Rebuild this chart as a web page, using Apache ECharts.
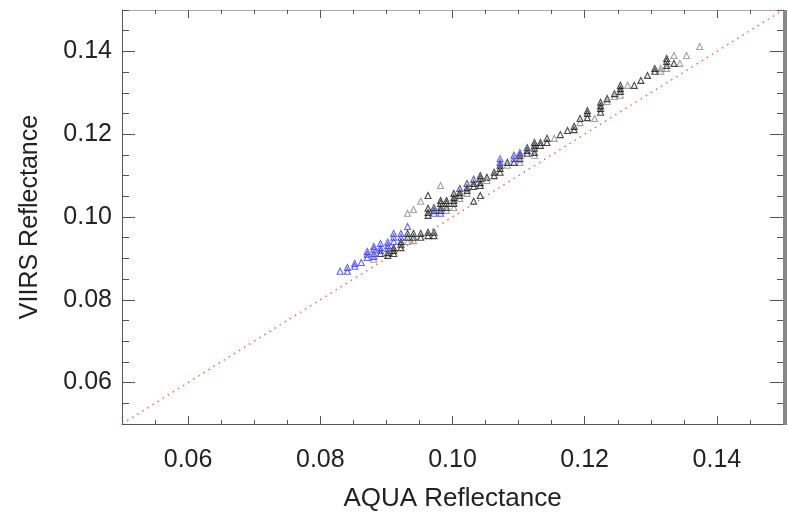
<!DOCTYPE html>
<html><head><meta charset="utf-8">
<script src="https://cdn.jsdelivr.net/npm/echarts@6/dist/echarts.min.js"></script>
<style>html,body{margin:0;padding:0;background:#fff}#c{width:788px;height:512px}</style>
</head><body><div id="c"></div>
<script>
const xTicks = [0.06, 0.08, 0.10, 0.12, 0.14];
const yTicks = [0.06, 0.08, 0.10, 0.12, 0.14];
const oneToOne = [[0.05,0.05],[0.15,0.15]];
const bluePts = [[0.0830,0.0869],[0.0841,0.0878],[0.0841,0.0869],[0.0852,0.0888],[0.0852,0.0881],[0.0862,0.0890],[0.0871,0.0917],[0.0871,0.0910],[0.0871,0.0902],[0.0881,0.0929],[0.0881,0.0922],[0.0881,0.0912],[0.0881,0.0905],[0.0891,0.0936],[0.0891,0.0926],[0.0891,0.0919],[0.0902,0.0939],[0.0902,0.0931],[0.0902,0.0924],[0.0911,0.0960],[0.0911,0.0951],[0.0911,0.0941],[0.0922,0.0960],[0.0922,0.0951],[0.0932,0.0977],[0.0972,0.1009],[0.0982,0.1009],[0.1072,0.1141],[0.1072,0.1132],[0.1093,0.1149],[0.1093,0.1141],[0.1102,0.1156]];
const navyPts = [[0.0972,0.1023],[0.1011,0.1069],[0.1022,0.1081],[0.1032,0.1091],[0.1113,0.1168]];
const grayPts = [[0.0881,0.0898],[0.0932,0.1009],[0.0941,0.1018],[0.0952,0.1038],[0.0982,0.1076],[0.0932,0.0941],[0.0941,0.0943],[0.0991,0.1016],[0.1002,0.1023],[0.1011,0.1045],[0.1022,0.1057],[0.1052,0.1088],[0.1083,0.1125],[0.1102,0.1132],[0.1124,0.1149],[0.1154,0.1190],[0.1193,0.1228],[0.1215,0.1238],[0.1234,0.1279],[0.1245,0.1291],[0.1254,0.1294],[0.1315,0.1352],[0.1315,0.1359],[0.1335,0.1390],[0.1344,0.1371],[0.1354,0.1390],[0.1374,0.1412],[0.1265,0.1318],[0.1324,0.1359]];
const blackPts = [[0.0891,0.0912],[0.0902,0.0914],[0.0902,0.0907],[0.0911,0.0926],[0.0911,0.0919],[0.0911,0.0912],[0.0922,0.0941],[0.0922,0.0934],[0.0922,0.0926],[0.0932,0.0960],[0.0932,0.0951],[0.0941,0.0960],[0.0941,0.0951],[0.0952,0.0960],[0.0952,0.0951],[0.0963,0.1021],[0.0963,0.1011],[0.0963,0.1004],[0.0963,0.1052],[0.0963,0.0963],[0.0963,0.0955],[0.0972,0.1016],[0.0972,0.0963],[0.0972,0.0955],[0.0982,0.1040],[0.0982,0.1033],[0.0982,0.1023],[0.0982,0.1016],[0.0991,0.1040],[0.0991,0.1033],[0.0991,0.1023],[0.1002,0.1057],[0.1002,0.1047],[0.1002,0.1040],[0.1002,0.1033],[0.1011,0.1059],[0.1011,0.1052],[0.1022,0.1071],[0.1022,0.1064],[0.1032,0.1081],[0.1032,0.1074],[0.1032,0.1038],[0.1042,0.1100],[0.1042,0.1093],[0.1042,0.1083],[0.1042,0.1076],[0.1042,0.1052],[0.1052,0.1096],[0.1063,0.1108],[0.1063,0.1100],[0.1072,0.1125],[0.1072,0.1117],[0.1072,0.1108],[0.1083,0.1132],[0.1093,0.1132],[0.1102,0.1149],[0.1102,0.1141],[0.1113,0.1161],[0.1113,0.1154],[0.1124,0.1180],[0.1124,0.1173],[0.1124,0.1166],[0.1124,0.1156],[0.1133,0.1180],[0.1133,0.1173],[0.1143,0.1190],[0.1143,0.1180],[0.1163,0.1199],[0.1174,0.1209],[0.1184,0.1219],[0.1184,0.1211],[0.1193,0.1238],[0.1204,0.1257],[0.1204,0.1250],[0.1204,0.1240],[0.1224,0.1277],[0.1224,0.1269],[0.1224,0.1262],[0.1224,0.1253],[0.1234,0.1286],[0.1245,0.1298],[0.1254,0.1318],[0.1254,0.1310],[0.1254,0.1303],[0.1275,0.1318],[0.1285,0.1330],[0.1295,0.1342],[0.1306,0.1359],[0.1306,0.1352],[0.1324,0.1383],[0.1324,0.1376],[0.1324,0.1366],[0.1335,0.1371]];

const font = 'Liberation Sans, Helvetica, Arial, sans-serif';
const tickCol = '#555';
function ax(extra) {
  return Object.assign({
    type: 'value', min: 0.05, max: 0.15, interval: 0.005,
    axisLine: { show: false },
    splitLine: { show: false },
    axisLabel: { show: false },
    axisTick: { show: false }
  }, extra);
}
const major = (len) => ({ show: true, inside: true, length: len, customValues: xTicks, lineStyle: { color: tickCol } });
const majorY = (len) => ({ show: true, inside: true, length: len, customValues: yTicks, lineStyle: { color: tickCol } });
const minor = (len) => ({ show: true, inside: true, length: len, lineStyle: { color: tickCol } });
const chart = echarts.init(document.getElementById('c'), null, { renderer: 'canvas' });
function sc(name, data, color, z) {
  return { type: 'scatter', name, data, symbol: 'triangle', symbolSize: [6, 6], z, xAxisIndex: 0, yAxisIndex: 0,
    itemStyle: { color: 'rgba(0,0,0,0)', borderColor: color, borderWidth: 1.1 }, silent: true };
}
const G = { left: 122, top: 10, right: 5, bottom: 88, containLabel: false, outerBoundsMode: 'none' };
chart.setOption({
  animation: false,
  backgroundColor: '#fff',
  grid: [Object.assign({}, G), Object.assign({}, G)],
  xAxis: [
    ax({ gridIndex: 0, position: 'bottom',
      axisLine: { show: true, lineStyle: { color: '#555', width: 1 } },
      name: 'AQUA Reflectance', nameLocation: 'middle', nameGap: 62,
      nameTextStyle: { fontFamily: font, fontSize: 26, color: '#222' },
      axisTick: major(8),
      axisLabel: { show: true, customValues: xTicks, margin: 24, fontFamily: font, fontSize: 25, color: '#222',
        formatter: v => v.toFixed(2) } }),
    ax({ gridIndex: 0, position: 'top',
      axisLine: { show: true, lineStyle: { color: '#aaa', width: 1 } },
      axisTick: major(8) }),
    ax({ gridIndex: 1, position: 'bottom', axisTick: minor(4) }),
    ax({ gridIndex: 1, position: 'top', axisTick: minor(4) })
  ],
  yAxis: [
    ax({ gridIndex: 0, position: 'left',
      axisLine: { show: true, lineStyle: { color: '#555', width: 1 } },
      name: 'VIIRS Reflectance', nameLocation: 'middle', nameGap: 79,
      nameTextStyle: { fontFamily: font, fontSize: 25, color: '#222' },
      axisTick: majorY(13),
      axisLabel: { show: true, customValues: yTicks, margin: 10, fontFamily: font, fontSize: 25, color: '#222',
        formatter: v => v.toFixed(2) } }),
    ax({ gridIndex: 0, position: 'right',
      axisLine: { show: true, lineStyle: { color: '#555', width: 1 } },
      axisTick: majorY(13) }),
    ax({ gridIndex: 1, position: 'left', axisTick: minor(7) }),
    ax({ gridIndex: 1, position: 'right', axisTick: minor(6) })
  ],
  series: [
    { type: 'line', data: oneToOne, symbol: 'none', silent: true, z: 1, xAxisIndex: 0, yAxisIndex: 0,
      lineStyle: { color: '#ff5a5a', width: 1.4, type: [1.5, 4.5] } },
    sc('gray', grayPts, '#8a8a8a', 2),
    sc('black', blackPts, '#1a1a1a', 3),
    sc('blue', bluePts, '#3b3bff', 4),
    sc('navy', navyPts, '#2a2a8a', 5)
  ],
  graphic: [{ type: 'rect', shape: { x: 783, y: 10, width: 4, height: 415 }, style: { fill: '#888' }, z: 100 }]
});
</script></body></html>
